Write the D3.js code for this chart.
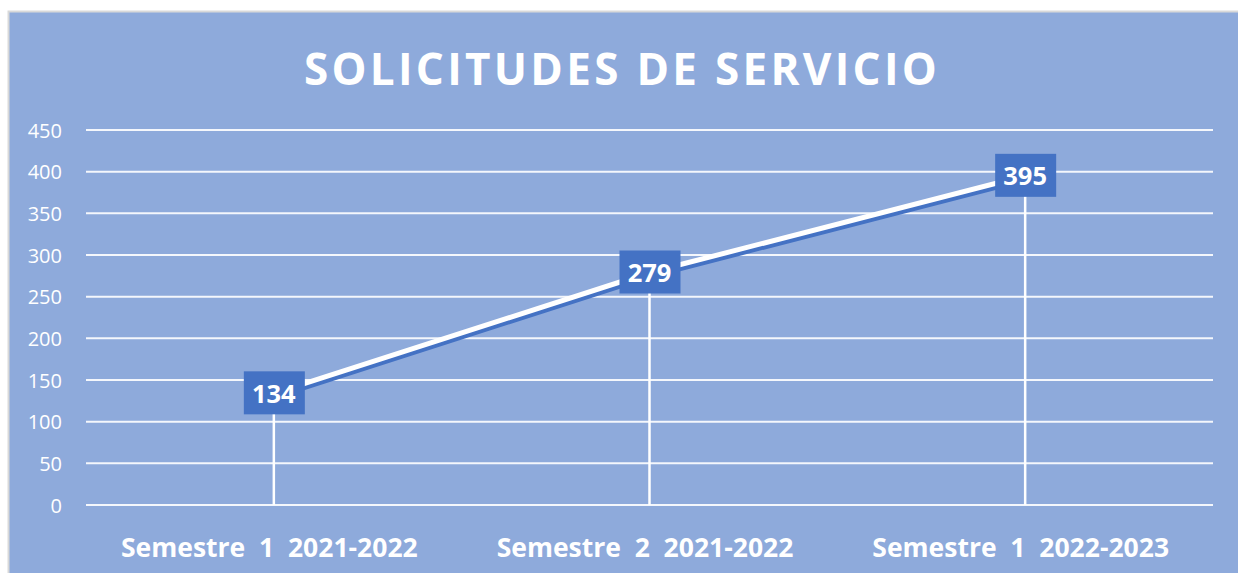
<!DOCTYPE html>
<html lang="es">
<head>
<meta charset="utf-8">
<title>Solicitudes de servicio</title>
<script src="https://cdn.jsdelivr.net/npm/d3@7"></script>
<style>
  body { margin: 0; background: #ffffff; }
  svg text { font-family: "Open Sans", sans-serif; fill: #ffffff; }
  .grid line { stroke: #ffffff; stroke-width: 2; stroke-opacity: 0.9; }
  .yaxis text { font-size: 20px; }
  .xaxis text { font-size: 26.5px; font-weight: bold; }
</style>
</head>
<body>
<script>
// datos
var categorias = ["Semestre  1  2021-2022", "Semestre  2  2021-2022", "Semestre  1  2022-2023"];
var valores = [134, 279, 395];
var ticksY = [0, 50, 100, 150, 200, 250, 300, 350, 400, 450];
var titulo = "SOLICITUDES DE SERVICIO";

var w = 1238, h = 573;
var mLeft = 86, mRight = 1213, mTop = 130, mBottom = 505;

var svg = d3.select("body").append("svg")
    .attr("width", w)
    .attr("height", h);

// fondo del grafico
svg.append("rect")
    .attr("x", 8.5).attr("y", 11.5)
    .attr("width", w).attr("height", h)
    .attr("fill", "#8eaadb")
    .attr("stroke", "#d9d9d9")
    .attr("stroke-width", 2);

svg.append("text")
    .attr("x", 622).attr("y", 85)
    .attr("text-anchor", "middle")
    .style("font-size", "44px")
    .style("font-weight", "bold")
    .style("letter-spacing", "3.3px")
    .text(titulo);

var x = d3.scalePoint()
    .domain(categorias)
    .range([mLeft, mRight])
    .padding(0.5);

var y = d3.scaleLinear()
    .domain([0, 450])
    .range([mBottom, mTop]);

// lineas de division
svg.append("g")
    .attr("class", "grid")
    .selectAll("line")
    .data(ticksY)
    .enter()
    .append("line")
    .attr("x1", mLeft).attr("x2", mRight)
    .attr("y1", function(d) { return y(d); })
    .attr("y2", function(d) { return y(d); });

// eje y (solo texto)
var yAxis = d3.axisLeft(y).tickValues(ticksY).tickSize(0).tickPadding(0);
var gy = svg.append("g")
    .attr("class", "yaxis")
    .attr("transform", "translate(62,0)")
    .call(yAxis);
gy.select(".domain").remove();
gy.selectAll("text").attr("dy", "0.35em").attr("fill", "#ffffff");

// lineas de caida
svg.append("g")
    .selectAll("line")
    .data(valores)
    .enter()
    .append("line")
    .attr("x1", function(d, i) { return x(categorias[i]); })
    .attr("x2", function(d, i) { return x(categorias[i]); })
    .attr("y1", function(d) { return y(d); })
    .attr("y2", mBottom)
    .attr("stroke", "#ffffff")
    .attr("stroke-width", 2.5);

// eje x (solo texto)
var xAxis = d3.axisBottom(x).tickSize(0).tickPadding(0);
var gx = svg.append("g")
    .attr("class", "xaxis")
    .attr("transform", "translate(-5,557)")
    .call(xAxis);
gx.select(".domain").remove();
gx.selectAll("text").attr("dy", "0").attr("fill", "#ffffff").style("white-space", "pre");

// linea con sombra azul
var line = d3.line()
    .x(function(d, i) { return x(categorias[i]); })
    .y(function(d) { return y(d); });

svg.append("path")
    .datum(valores)
    .attr("d", line)
    .attr("transform", "translate(0,4)")
    .attr("fill", "none")
    .attr("stroke", "#4472c4")
    .attr("stroke-width", 5);

svg.append("path")
    .datum(valores)
    .attr("d", line)
    .attr("fill", "none")
    .attr("stroke", "#ffffff")
    .attr("stroke-width", 5);

// etiquetas de datos
var etiquetas = svg.append("g")
    .selectAll("g")
    .data(valores)
    .enter()
    .append("g")
    .attr("transform", function(d, i) {
        return "translate(" + x(categorias[i]) + "," + y(d) + ")";
    });

etiquetas.append("rect")
    .attr("x", -30).attr("y", -22)
    .attr("width", 61).attr("height", 43)
    .attr("fill", "#4472c4");

etiquetas.append("text")
    .attr("text-anchor", "middle")
    .attr("dy", "0.36em")
    .style("font-size", "25.5px")
    .style("font-weight", "bold")
    .text(function(d) { return d; });
</script>
</body>
</html>
